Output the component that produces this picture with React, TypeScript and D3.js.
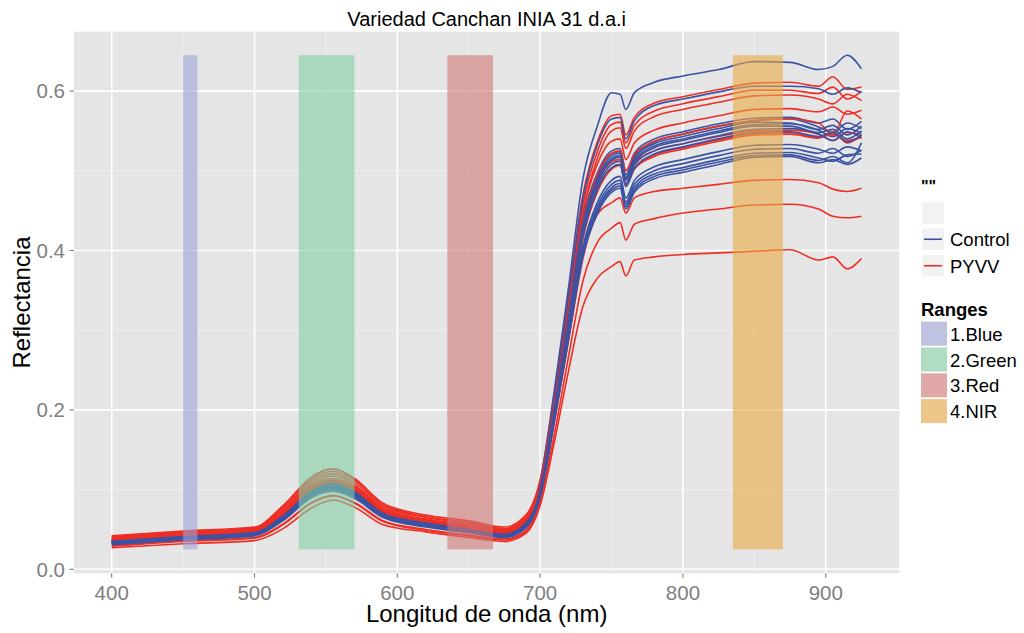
import React from 'react';
import * as d3 from 'd3';

const wavelengths = [400,450,500,520,540,555,570,590,620,650,675,690,700,710,720,730,740,750,756,760,766,780,800,825,850,875,895,905,915,925];

const controlCurves = [
  [0.036,0.042,0.047,0.068,0.099,0.108,0.098,0.071,0.059,0.051,0.045,0.060,0.110,0.225,0.355,0.490,0.556,0.598,0.596,0.577,0.598,0.611,0.619,0.627,0.637,0.636,0.627,0.631,0.645,0.628],
  [0.035,0.041,0.046,0.067,0.097,0.106,0.096,0.070,0.058,0.050,0.044,0.058,0.105,0.215,0.340,0.465,0.532,0.565,0.567,0.540,0.563,0.582,0.590,0.599,0.606,0.606,0.603,0.596,0.604,0.598],
  [0.034,0.040,0.045,0.066,0.096,0.105,0.095,0.069,0.057,0.049,0.043,0.056,0.100,0.205,0.320,0.440,0.497,0.525,0.528,0.500,0.522,0.540,0.549,0.559,0.566,0.567,0.560,0.565,0.552,0.562],
  [0.036,0.042,0.047,0.069,0.100,0.109,0.099,0.072,0.060,0.052,0.046,0.059,0.102,0.208,0.322,0.438,0.494,0.521,0.524,0.495,0.518,0.536,0.546,0.556,0.563,0.565,0.555,0.548,0.560,0.553],
  [0.033,0.039,0.044,0.064,0.094,0.102,0.093,0.068,0.056,0.048,0.042,0.055,0.098,0.200,0.315,0.432,0.490,0.518,0.522,0.492,0.516,0.534,0.543,0.553,0.561,0.560,0.552,0.557,0.545,0.556],
  [0.035,0.041,0.046,0.066,0.096,0.104,0.094,0.069,0.057,0.049,0.043,0.057,0.099,0.202,0.316,0.430,0.487,0.515,0.519,0.490,0.513,0.531,0.540,0.550,0.558,0.559,0.551,0.543,0.553,0.547],
  [0.034,0.040,0.045,0.065,0.095,0.103,0.094,0.068,0.056,0.048,0.043,0.056,0.097,0.198,0.312,0.428,0.485,0.513,0.517,0.488,0.511,0.529,0.538,0.548,0.556,0.556,0.548,0.552,0.540,0.550],
  [0.033,0.039,0.044,0.065,0.094,0.103,0.093,0.068,0.056,0.048,0.042,0.055,0.096,0.196,0.308,0.423,0.480,0.508,0.512,0.484,0.507,0.525,0.534,0.544,0.552,0.553,0.546,0.538,0.549,0.541],
  [0.035,0.041,0.046,0.067,0.098,0.107,0.097,0.070,0.058,0.050,0.044,0.058,0.097,0.197,0.306,0.418,0.476,0.504,0.508,0.480,0.503,0.521,0.530,0.540,0.548,0.549,0.543,0.548,0.536,0.545],
  [0.034,0.040,0.045,0.066,0.096,0.105,0.095,0.069,0.057,0.049,0.043,0.056,0.094,0.192,0.298,0.405,0.460,0.488,0.493,0.466,0.488,0.505,0.514,0.524,0.532,0.533,0.527,0.522,0.530,0.525],
  [0.033,0.039,0.043,0.063,0.093,0.101,0.092,0.067,0.055,0.047,0.042,0.054,0.093,0.190,0.295,0.401,0.455,0.483,0.488,0.461,0.483,0.500,0.509,0.519,0.527,0.528,0.522,0.528,0.518,0.526],
  [0.032,0.038,0.043,0.062,0.092,0.100,0.091,0.066,0.054,0.047,0.041,0.053,0.092,0.188,0.292,0.397,0.451,0.479,0.484,0.458,0.479,0.496,0.504,0.514,0.522,0.523,0.516,0.512,0.520,0.521],
  [0.034,0.040,0.044,0.064,0.094,0.102,0.093,0.067,0.055,0.048,0.042,0.055,0.093,0.189,0.293,0.396,0.449,0.476,0.481,0.455,0.476,0.493,0.501,0.511,0.519,0.520,0.513,0.518,0.510,0.535],
  [0.031,0.037,0.042,0.061,0.090,0.098,0.089,0.065,0.053,0.046,0.040,0.052,0.091,0.186,0.290,0.393,0.446,0.473,0.478,0.452,0.473,0.490,0.498,0.508,0.517,0.518,0.510,0.514,0.508,0.516],
];

const pyvvCurves = [
  [0.042,0.048,0.053,0.080,0.116,0.126,0.114,0.083,0.068,0.061,0.053,0.068,0.112,0.222,0.348,0.470,0.536,0.569,0.571,0.545,0.567,0.585,0.593,0.602,0.610,0.611,0.606,0.618,0.602,0.605],
  [0.040,0.046,0.051,0.076,0.110,0.120,0.109,0.079,0.065,0.058,0.050,0.064,0.108,0.215,0.338,0.458,0.524,0.558,0.561,0.535,0.557,0.575,0.584,0.593,0.601,0.601,0.597,0.605,0.590,0.600],
  [0.038,0.044,0.049,0.072,0.105,0.114,0.104,0.075,0.062,0.055,0.048,0.061,0.104,0.208,0.328,0.448,0.515,0.550,0.554,0.528,0.550,0.568,0.577,0.586,0.594,0.595,0.590,0.584,0.596,0.588],
  [0.041,0.047,0.052,0.078,0.113,0.123,0.112,0.081,0.066,0.059,0.051,0.066,0.106,0.210,0.330,0.448,0.508,0.537,0.540,0.514,0.535,0.551,0.560,0.569,0.577,0.578,0.574,0.580,0.571,0.576],
  [0.037,0.043,0.048,0.070,0.102,0.111,0.101,0.073,0.060,0.053,0.046,0.060,0.100,0.204,0.318,0.436,0.494,0.522,0.525,0.500,0.520,0.537,0.546,0.556,0.563,0.565,0.560,0.545,0.575,0.565],
  [0.039,0.045,0.050,0.074,0.107,0.117,0.106,0.077,0.063,0.056,0.049,0.063,0.101,0.203,0.315,0.428,0.484,0.511,0.514,0.490,0.510,0.525,0.534,0.543,0.550,0.551,0.546,0.538,0.548,0.545],
  [0.030,0.036,0.040,0.057,0.084,0.093,0.084,0.061,0.050,0.043,0.038,0.049,0.090,0.190,0.300,0.415,0.473,0.502,0.507,0.482,0.503,0.520,0.529,0.539,0.547,0.548,0.542,0.549,0.535,0.544],
  [0.036,0.042,0.047,0.069,0.100,0.109,0.099,0.072,0.059,0.052,0.045,0.059,0.098,0.198,0.309,0.420,0.476,0.503,0.507,0.482,0.502,0.518,0.527,0.537,0.545,0.546,0.541,0.546,0.538,0.542],
  [0.038,0.044,0.048,0.071,0.103,0.112,0.102,0.074,0.061,0.054,0.047,0.059,0.094,0.185,0.288,0.390,0.445,0.460,0.466,0.447,0.466,0.474,0.478,0.483,0.488,0.489,0.485,0.477,0.474,0.478],
  [0.029,0.035,0.039,0.056,0.083,0.092,0.083,0.060,0.049,0.042,0.037,0.047,0.085,0.170,0.268,0.362,0.410,0.428,0.435,0.413,0.433,0.440,0.447,0.452,0.457,0.458,0.452,0.443,0.441,0.443],
  [0.027,0.032,0.036,0.051,0.077,0.087,0.078,0.056,0.047,0.040,0.035,0.045,0.080,0.160,0.250,0.330,0.365,0.380,0.386,0.368,0.388,0.392,0.395,0.397,0.399,0.401,0.388,0.392,0.377,0.390],
];

const rangeNames = ['1.Blue', '2.Green', '3.Red', '4.NIR'];
const rangeStart = [450, 531, 635, 835];
const rangeEnd = [460, 570, 667, 870];
const rangeColors = ['#9da1d6', '#81cea4', '#d17774', '#eaa945'];
const rangeLow = 0.025;
const rangeHigh = 0.645;

const xTicks = [400, 500, 600, 700, 800, 900];
const xMinor = [450, 550, 650, 750, 850];
const yTicks = [0, 0.2, 0.4, 0.6];
const yMinor = [0.1, 0.3, 0.5];

const seriesNames = ['Control', 'PYVV'];
const seriesColors = ['#3a53a4', '#ee2e24'];

const FONT = '"Liberation Sans", Arial, Helvetica, sans-serif';

export default function App() {
  const left = 74, right = 899.3, top = 31.7, bottom = 573.3;
  const x = d3.scaleLinear().domain([373.6, 951.5]).range([left, right]);
  const y = d3.scaleLinear().domain([-0.005, 0.6745]).range([bottom, top]);

  const line = d3.line<number>()
    .x((_, i) => x(wavelengths[i]))
    .y((v) => y(v))
    .curve(d3.curveMonotoneX);

  const ordered: { vals: number[]; color: string }[] = [];
  const n = Math.max(controlCurves.length, pyvvCurves.length);
  for (let i = 0; i < n; i++) {
    if (pyvvCurves[i]) ordered.push({ vals: pyvvCurves[i], color: seriesColors[1] });
    if (controlCurves[i]) ordered.push({ vals: controlCurves[i], color: seriesColors[0] });
  }

  const tickColor = '#7f7f7f';

  return (
    <svg width={1024} height={633} style={{ position: 'absolute', left: 0, top: 0, background: '#fff' }} fontFamily={FONT}>
      <rect x={0} y={0} width={1024} height={633} fill="#ffffff" />
      <rect x={left} y={top} width={right - left} height={bottom - top} fill="#e5e5e5" />
      {xMinor.map((t) => (
        <line key={'xm' + t} x1={x(t)} x2={x(t)} y1={top} y2={bottom} stroke="#f2f2f2" strokeWidth={0.8} />
      ))}
      {yMinor.map((t) => (
        <line key={'ym' + t} x1={left} x2={right} y1={y(t)} y2={y(t)} stroke="#f2f2f2" strokeWidth={0.8} />
      ))}
      {xTicks.map((t) => (
        <line key={'xg' + t} x1={x(t)} x2={x(t)} y1={top} y2={bottom} stroke="#ffffff" strokeWidth={1.6} />
      ))}
      {yTicks.map((t) => (
        <line key={'yg' + t} x1={left} x2={right} y1={y(t)} y2={y(t)} stroke="#ffffff" strokeWidth={1.6} />
      ))}

      {ordered.map((c, i) => (
        <path key={'c' + i} d={line(c.vals) || ''} fill="none" stroke={c.color} strokeWidth={1.6} strokeLinejoin="round" />
      ))}

      {rangeNames.map((nm, i) => (
        <rect key={'r' + nm} x={x(rangeStart[i])} y={y(rangeHigh)} width={x(rangeEnd[i]) - x(rangeStart[i])}
          height={y(rangeLow) - y(rangeHigh)} fill={rangeColors[i]} fillOpacity={0.6} />
      ))}

      {xTicks.map((t) => (
        <g key={'xt' + t}>
          <line x1={x(t)} x2={x(t)} y1={bottom} y2={bottom + 4.5} stroke={tickColor} strokeWidth={1.1} />
          <text x={x(t)} y={599.5} textAnchor="middle" fontSize={20.5} fill={tickColor}>{t}</text>
        </g>
      ))}
      {yTicks.map((t) => (
        <g key={'yt' + t}>
          <line x1={left - 4.5} x2={left} y1={y(t)} y2={y(t)} stroke={tickColor} strokeWidth={1.1} />
          <text x={65} y={y(t) + 7.3} textAnchor="end" fontSize={20.5} fill={tickColor}>{t.toFixed(1)}</text>
        </g>
      ))}

      <text x={(left + right) / 2} y={26} textAnchor="middle" fontSize={20} fill="#000">Variedad Canchan INIA 31 d.a.i</text>
      <text x={(left + right) / 2} y={621.5} textAnchor="middle" fontSize={24} fill="#000">Longitud de onda (nm)</text>
      <text transform={`translate(30, ${(top + bottom) / 2}) rotate(-90)`} textAnchor="middle" fontSize={24} fill="#000">Reflectancia</text>

      {/* Legend: series */}
      <text x={921} y={192} fontSize={16} fontWeight="bold" fill="#000">""</text>
      <rect x={922} y={202.5} width={22} height={21.5} fill="#f2f2f2" />
      {seriesNames.map((nm, i) => {
        const ky = 228.5 + i * 26.5;
        return (
          <g key={'sl' + nm}>
            <rect x={922} y={ky} width={22} height={21.5} fill="#f2f2f2" />
            <line x1={924} x2={942} y1={ky + 10.75} y2={ky + 10.75} stroke={seriesColors[i]} strokeWidth={1.6} />
            <text x={950} y={ky + 17.5} fontSize={18.5} fill="#000">{nm}</text>
          </g>
        );
      })}

      {/* Legend: ranges */}
      <text x={921} y={316} fontSize={18.5} fontWeight="bold" fill="#000">Ranges</text>
      {rangeNames.map((nm, i) => {
        const ky = 321.7 + i * 25.8;
        return (
          <g key={'rl' + nm}>
            <rect x={921} y={ky} width={26} height={24} fill="#f2f2f2" />
            <rect x={921} y={ky} width={26} height={24} fill={rangeColors[i]} fillOpacity={0.6} />
            <text x={950} y={ky + 19} fontSize={18.5} fill="#000">{nm}</text>
          </g>
        );
      })}
    </svg>
  );
}
